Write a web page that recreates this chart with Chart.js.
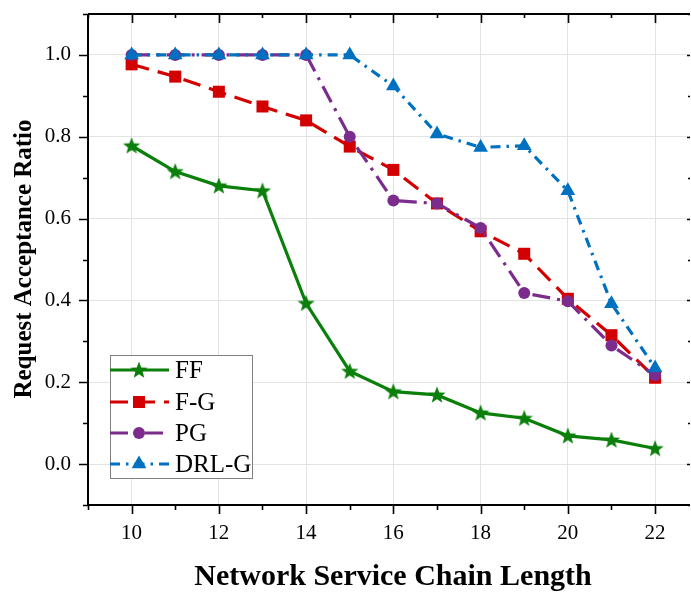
<!DOCTYPE html>
<html>
<head>
<meta charset="utf-8">
<script src="https://cdn.jsdelivr.net/npm/chart.js@4"></script>
<style>
  html, body { margin: 0; padding: 0; background: #fff; }
  #wrap { width: 691px; height: 592px; }
</style>
</head>
<body>
<div id="wrap"><canvas id="chart" width="691" height="592"></canvas></div>
<script>
// chart data
const lengths = [10, 11, 12, 13, 14, 15, 16, 17, 18, 19, 20, 21, 22];
const ffValues = [0.778, 0.715, 0.680, 0.668, 0.393, 0.227, 0.177, 0.169, 0.125, 0.112, 0.069, 0.059, 0.038];
const fgValues = [0.977, 0.947, 0.910, 0.874, 0.840, 0.776, 0.719, 0.637, 0.569, 0.514, 0.404, 0.315, 0.211];
const pgValues = [1.0, 1.0, 1.0, 1.0, 1.0, 0.800, 0.644, 0.637, 0.577, 0.418, 0.398, 0.290, 0.217];
const drlgValues = [1.0, 1.0, 1.0, 1.0, 1.0, 1.0, 0.924, 0.807, 0.774, 0.778, 0.668, 0.392, 0.235];
const seriesNames = ['FF', 'F-G', 'PG', 'DRL-G'];
const xTickValues = [9, 10, 11, 12, 13, 14, 15, 16, 17, 18, 19, 20, 21, 22];
const yTickValues = [-0.1, 0, 0.1, 0.2, 0.3, 0.4, 0.5, 0.6, 0.7, 0.8, 0.9, 1.0, 1.1];

const SERIF = '"Liberation Serif", "Times New Roman", serif';

// filled five point star used as marker for FF
function makeStar(color) {
    const c = document.createElement('canvas');
    c.width = 20;
    c.height = 20;
    const g = c.getContext('2d');
    g.fillStyle = color;
    g.beginPath();
    for (let i = 0; i < 10; i++) {
        const r = i % 2 === 0 ? 9 : 3.8;
        const a = -Math.PI / 2 + i * Math.PI / 5;
        const px = 10 + r * Math.cos(a);
        const py = 10.5 + r * Math.sin(a);
        if (i === 0) g.moveTo(px, py); else g.lineTo(px, py);
    }
    g.closePath();
    g.fill();
    return c;
}

function toPoints(values) {
    return lengths.map((x, i) => ({ x: x, y: values[i] }));
}

const isMajorY = v => {
    const k = Math.round(v * 10);
    return k >= 0 && k <= 10 && k % 2 === 0;
};
const isMajorX = v => Math.round(v) % 2 === 0;

const datasets = [
    {
        label: seriesNames[0], data: toPoints(ffValues),
        borderColor: '#0a7f0a', backgroundColor: '#0a7f0a',
        borderWidth: 3.2, borderDash: [],
        pointStyle: makeStar('#0a7f0a'), pointRadius: 9, order: 4
    },
    {
        label: seriesNames[1], data: toPoints(fgValues),
        borderColor: '#d20000', backgroundColor: '#d20000',
        borderWidth: 3.2, borderDash: [18, 9],
        pointStyle: 'rect', pointRadius: 8.5, order: 3
    },
    {
        label: seriesNames[2], data: toPoints(pgValues),
        borderColor: '#7b2c8c', backgroundColor: '#7b2c8c',
        borderWidth: 3.2, borderDash: [18, 7, 3, 7],
        pointStyle: 'circle', pointRadius: 6, order: 2
    },
    {
        label: seriesNames[3], data: toPoints(drlgValues),
        borderColor: '#0070c0', backgroundColor: '#0070c0',
        borderWidth: 3.2, borderDash: [10, 6, 2.5, 6],
        pointStyle: 'triangle', pointRadius: 8.5, order: 1
    }
];
datasets.forEach(d => {
    d.pointBorderWidth = 0;
    d.pointHoverRadius = d.pointRadius;
    d.tension = 0;
});

// ticks, frame, axis titles and the boxed legend
const framePlugin = {
    id: 'frame',
    afterDatasetsDraw(chart) {
        const ctx = chart.ctx;
        const { left, right, top, bottom } = chart.chartArea;
        const xs = chart.scales.x;
        const ys = chart.scales.y;
        ctx.save();
        ctx.strokeStyle = '#000';
        ctx.lineWidth = 1.6;
        xs.ticks.forEach(t => {
            const px = Math.round(xs.getPixelForValue(t.value)) + 0.5;
            const major = isMajorX(t.value);
            ctx.beginPath();
            ctx.moveTo(px, bottom);
            ctx.lineTo(px, bottom + (major ? 9 : 5));
            ctx.moveTo(px, top);
            ctx.lineTo(px, top + (major ? 9 : 4));
            ctx.stroke();
        });
        ys.ticks.forEach(t => {
            const py = Math.round(ys.getPixelForValue(t.value)) + 0.5;
            const major = isMajorY(t.value);
            ctx.beginPath();
            ctx.moveTo(left, py);
            ctx.lineTo(left - (major ? 9 : 5), py);
            ctx.moveTo(right, py);
            ctx.lineTo(right - (major ? 3 : 2), py);
            ctx.stroke();
        });
        ctx.lineWidth = 2;
        ctx.beginPath();
        ctx.moveTo(left, top);
        ctx.lineTo(left, bottom);
        ctx.lineTo(right, bottom);
        ctx.moveTo(left, top);
        ctx.lineTo(right, top);
        ctx.stroke();

        // axis titles
        ctx.fillStyle = '#000';
        ctx.textAlign = 'center';
        ctx.textBaseline = 'middle';
        ctx.font = 'bold 30px ' + SERIF;
        ctx.fillText('Network Service Chain Length', 393, 577);
        ctx.save();
        ctx.translate(25, 259);
        ctx.rotate(-Math.PI / 2);
        ctx.font = 'bold 25px ' + SERIF;
        ctx.fillText('Request Acceptance Ratio', 0, 0);
        ctx.restore();

        // legend
        const bx = 110, by = 355, bw = 142, bh = 123;
        ctx.fillStyle = '#fff';
        ctx.fillRect(bx, by, bw, bh);
        ctx.strokeStyle = '#808080';
        ctx.lineWidth = 1;
        ctx.strokeRect(bx + 0.5, by + 0.5, bw, bh);
        const rows = [370, 402, 433, 464];
        datasets.forEach((d, r) => {
            const y = rows[r];
            ctx.save();
            ctx.strokeStyle = d.borderColor;
            ctx.lineWidth = d.borderWidth;
            ctx.setLineDash(d.borderDash);
            ctx.beginPath();
            ctx.moveTo(bx, y);
            ctx.lineTo(bx + 59, y);
            ctx.stroke();
            ctx.fillStyle = d.backgroundColor;
            ctx.strokeStyle = d.backgroundColor;
            ctx.setLineDash([]);
            Chart.helpers.drawPoint(ctx, {
                pointStyle: d.pointStyle, radius: d.pointRadius, borderWidth: 0, rotation: 0
            }, bx + 29, y);
            ctx.restore();
            ctx.fillStyle = '#000';
            ctx.textAlign = 'left';
            ctx.font = '25px ' + SERIF;
            ctx.fillText(d.label, bx + 65, y + 1);
        });
        ctx.restore();
    }
};

new Chart(document.getElementById('chart'), {
    type: 'line',
    data: { datasets: datasets },
    plugins: [framePlugin],
    options: {
        responsive: false,
        animation: false,
        events: [],
        layout: { autoPadding: false, padding: { left: 0, right: 1, top: 14, bottom: 0 } },
        plugins: { legend: { display: false }, tooltip: { enabled: false } },
        scales: {
            x: {
                type: 'linear',
                min: 9,
                max: 22.8,
                afterBuildTicks: s => { s.ticks = xTickValues.map(v => ({ value: v })); },
                afterFit: s => { s.height = 87; s.paddingLeft = 0; s.paddingRight = 0; },
                border: { display: false },
                grid: {
                    drawTicks: false,
                    color: c => (c.tick && isMajorX(c.tick.value) && c.tick.value >= 10) ? '#e3e3e3' : 'rgba(0,0,0,0)',
                    lineWidth: 1
                },
                ticks: {
                    autoSkip: false,
                    maxRotation: 0,
                    padding: 16,
                    color: '#000',
                    font: { family: SERIF, size: 21 },
                    callback: v => isMajorX(v) ? String(v) : ''
                }
            },
            y: {
                type: 'linear',
                min: -0.1,
                max: 1.1,
                afterBuildTicks: s => { s.ticks = yTickValues.map(v => ({ value: v })); },
                afterFit: s => { s.width = 88; s.paddingTop = 0; s.paddingBottom = 0; },
                border: { display: false },
                grid: {
                    drawTicks: false,
                    color: c => (c.tick && isMajorY(c.tick.value)) ? '#e3e3e3' : 'rgba(0,0,0,0)',
                    lineWidth: 1
                },
                ticks: {
                    autoSkip: false,
                    padding: 17,
                    color: '#000',
                    font: { family: SERIF, size: 21 },
                    callback: v => isMajorY(v) ? v.toFixed(1) : ''
                }
            }
        }
    }
});
</script>
</body>
</html>
